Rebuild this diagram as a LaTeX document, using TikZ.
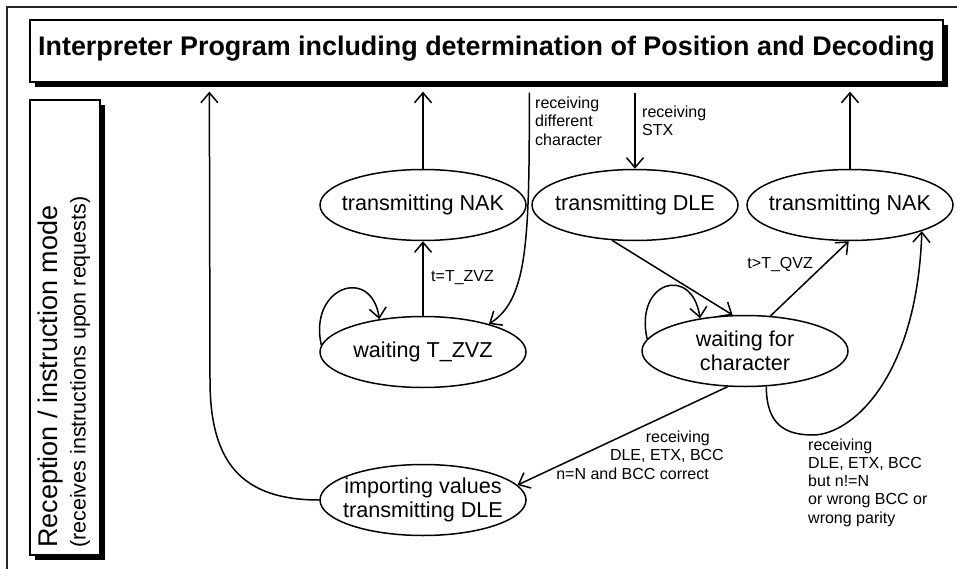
\documentclass[tikz,border=0pt]{standalone}
\usepackage{fontspec}
\setmainfont{Liberation Sans}
\usetikzlibrary{shapes.geometric,arrows.meta,shadows,calc}
\begin{document}
\begin{tikzpicture}[x=1pt,y=-1pt,
  every node/.style={inner sep=0pt},
  st/.style={draw, ellipse, line width=1.5pt, minimum width=206pt, minimum height=71pt,
    inner xsep=-30pt, align=center, font=\fontsize{21.6}{24}\selectfont},
  arr/.style={line width=1.5pt, -{Straight Barb[length=10pt,width=17pt]}},
  lab/.style={font=\fontsize{16}{18.3}\selectfont, align=left},
  box/.style={draw, fill=white, line width=1.3pt,
    general shadow={shadow xshift=5pt, shadow yshift=-5pt, fill=black}},
  frame/.style={line width=1.3pt, draw=black!85}
]
\useasboundingbox (0,0) rectangle (957,569);
\draw[frame] (7,569) -- (7,7) -- (957,7);

% header and side box
\node[box, minimum width=913pt, minimum height=62pt, text height=20pt, text depth=10pt,
  font=\bfseries\fontsize{26.9}{30}\selectfont] (hdr) at (486.5,51)
  {Interpreter Program including determination of Position and Decoding};
\node[box, minimum width=70pt, minimum height=455pt] (lbox) at (65,327.5) {};
\node[rotate=90, anchor=west, align=left, font=\fontsize{21.5}{28}\selectfont] (lbl) at (64,548)
  {{\fontsize{27}{28}\selectfont Reception / instruction mode}\\(receives instructions upon requests)};

% states
\node[st] (nakA) at (423,205) {transmitting NAK};
\node[st] (dle)  at (635,205) {transmitting DLE};
\node[st] (nakB) at (850,205) {transmitting NAK};
\node[st] (wz)   at (423,352) {waiting T\_ZVZ};
\node[st] (wc)   at (745,351) {waiting for\\character};
\node[st] (imp)  at (423,500) {importing values\\transmitting DLE};

% helper coordinates on the header
\coordinate (hA) at ($(nakA.north |- hdr.south)+(0,9)$);
\coordinate (hB) at ($(nakB.north |- hdr.south)+(0,9)$);
\coordinate (hD) at ($(dle.north |- hdr.south)+(0,10)$);
\coordinate (hX) at ($(hdr.south west)+(500,10)$);
\coordinate (hI) at ($(hdr.south west)+(180,9)$);
\coordinate (bend) at (210,380);
\coordinate (bot) at (813,435);

% connectors
\draw[arr] (nakA.north) -- (hA);
\draw[arr] (nakB.north) -- (hB);
\draw[arr] (hD) -- (dle.north);
\draw[arr] (hX) .. controls +(0,148) and +(39,-25) .. (wz.23);
\draw[arr] (wz.north) -- (nakA.south);
\draw[arr] (wz.176) .. controls +(-13,-58) and +(-8,-54) .. (wz.143);
\draw[arr] (dle.-123) -- (wc.109);
\draw[arr] (wc.54) -- (nakB.268);
\draw[arr] (wc.173) .. controls +(-13,-58) and +(-8,-54) .. (wc.144);
\draw[arr] (wc.244) -- (imp.9);
\draw[arr] (wc.-59) .. controls +(0,38) and +(-28,0) .. (bot)
  .. controls +(37,0) and +(-5,149) .. (nakB.-20);
\draw[arr] (imp.west) .. controls +(-80,0) and +(0,80) .. (bend) -- (hI);

% labels
\node[lab, anchor=west] (lSTX) at (642,121) {receiving\\STX};
\node[lab, anchor=west] (lDiff) at (535,121) {receiving\\different\\character};
\node[lab, anchor=west] (lZ) at (431,278) {t=T\_ZVZ};
\node[lab, anchor=east] (lQ) at (813,265) {t>T\_QVZ};
\node[lab, anchor=east, align=right] (lOK) at (724,455)
  {receiving\hspace*{14pt}\\DLE, ETX, BCC\\n=N and BCC correct\hspace*{15pt}};
\node[lab, anchor=west] (lBad) at (808,482.5)
  {receiving\\DLE, ETX, BCC\\but n!=N\\or wrong BCC or\\wrong parity};
\end{tikzpicture}
\end{document}
